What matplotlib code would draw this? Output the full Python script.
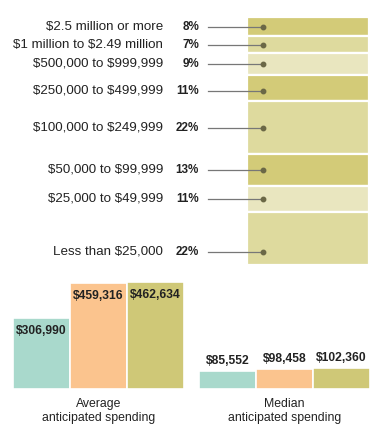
import matplotlib
matplotlib.use("Agg")
import matplotlib.pyplot as plt
import matplotlib.transforms as mtransforms

plt.rcParams['font.family'] = ['Liberation Sans', 'DejaVu Sans']
plt.rcParams['text.parse_math'] = False

# distribution of anticipated spending
categories = ["$2.5 million or more", "$1 million to $2.49 million", "$500,000 to $999,999",
              "$250,000 to $499,999", "$100,000 to $249,999", "$50,000 to $99,999",
              "$25,000 to $49,999", "Less than $25,000"]
shares = [8, 7, 9, 11, 22, 13, 11, 22]

# average / median anticipated spending (three groups)
average_spend = [306990, 459316, 462634]
median_spend = [85552, 98458, 102360]

seg_colors = ["#d3cb78", "#deda9e", "#e9e6bf", "#d3cb78", "#deda9e", "#d3cb78", "#e9e6bf", "#deda9e"]
dot_frac = [0.5, 0.5, 0.5, 0.6, 0.5, 0.5, 0.5, 0.75]  # where the marker sits in each segment
bar_colors = ["#a9d9cc", "#fbc48e", "#cfc877"]

W, H = 382, 444
fig = plt.figure(figsize=(W / 100, H / 100), dpi=100)


def px_axes(x0, y0, x1, y1):
    # top-left pixel coords -> figure axes
    return fig.add_axes([x0 / W, 1 - y1 / H, (x1 - x0) / W, (y1 - y0) / H])


# stacked column
ax = px_axes(247, 17, 369, 265)
total = sum(shares)
bottom = 0
for v, c in zip(shares, seg_colors):
    ax.bar(0, v, bottom=bottom, width=1, color=c, edgecolor="white", linewidth=1.6)
    bottom += v
ax.set_xlim(-0.5, 0.5)
ax.set_ylim(total, 0)
ax.axis("off")

trans = mtransforms.blended_transform_factory(fig.transFigure, ax.transData)
bottom = 0
for cat, v, f in zip(categories, shares, dot_frac):
    y = bottom + v * f
    bottom += v
    ax.text(163 / W, y, cat, transform=trans, ha="right", va="center", fontsize=9.6, color="#222222")
    ax.text(199 / W, y, f"{v}%", transform=trans, ha="right", va="center", fontsize=8.4,
            fontweight="bold", color="#222222")
    ax.plot([208 / W, 263 / W], [y, y], transform=trans, color="#777777", lw=0.9, clip_on=False)
    ax.plot([263 / W], [y], transform=trans, marker="o", ms=3.2, color="#6b6846", clip_on=False)

# average and median bars
ax_avg = px_axes(13, 279, 184, 389)
ax_med = px_axes(199, 279, 370, 389)
for a, vals, top, title, inside in [
        (ax_avg, average_spend, 459316 * 110 / 106, "Average\nanticipated spending", True),
        (ax_med, median_spend, 102360 * 110 / 21, "Median\nanticipated spending", False)]:
    a.bar(range(3), vals, width=1, color=bar_colors, edgecolor="white", linewidth=1.2)
    a.set_xlim(-0.5, 2.5)
    a.set_ylim(0, top)
    a.axis("off")
    for i, v in enumerate(vals):
        if inside:
            a.annotate(f"${v:,}", (i, v), xytext=(0, -5), textcoords="offset points",
                       ha="center", va="top", fontsize=8.7, fontweight="bold", color="#222222")
        else:
            a.annotate(f"${v:,}", (i, v), xytext=(0, 3), textcoords="offset points",
                       ha="center", va="bottom", fontsize=8.7, fontweight="bold", color="#222222")
    a.text(0.5, -0.08, title, transform=a.transAxes, ha="center", va="top", fontsize=8.8,
           color="#222222", linespacing=1.2)

fig.savefig("out.png", dpi=100)
